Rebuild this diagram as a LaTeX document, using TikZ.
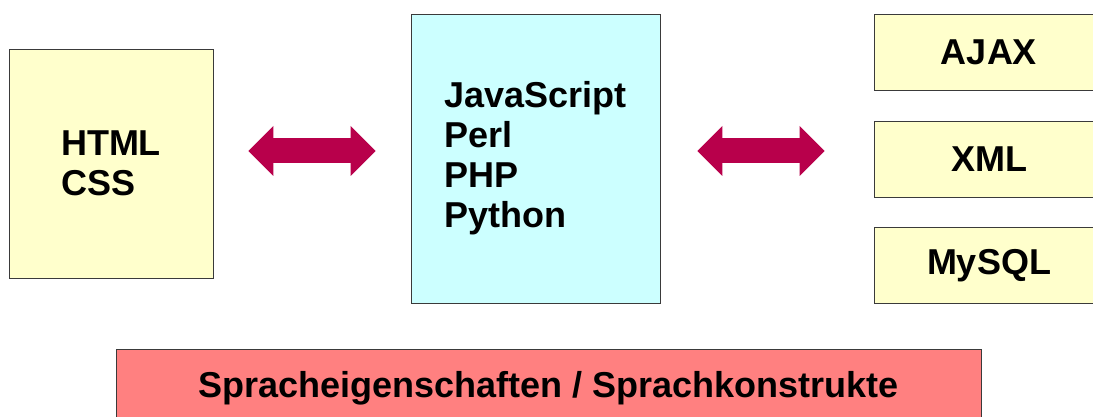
\documentclass[tikz,border=0pt]{standalone}
\usepackage{fontspec}
\setmainfont{Liberation Sans}
\usepackage{xcolor}
\usetikzlibrary{arrows.meta,calc}

\definecolor{boxyellow}{HTML}{FFFFCC}
\definecolor{boxcyan}{HTML}{CCFFFF}
\definecolor{boxred}{HTML}{FF8080}
\definecolor{arrowred}{HTML}{B8004B}
\definecolor{rimgray}{HTML}{3A3A3A}

\begin{document}
\begin{tikzpicture}[x=1pt,y=-1pt,
   langbox/.style={draw=rimgray,line width=0.8pt,align=left,inner sep=0pt,
      font=\fontsize{36}{40}\selectfont\bfseries},
   dblarrow/.style={draw=arrowred,line width=25pt,
      {Triangle[length=25pt,width=50pt,line width=0pt]}-{Triangle[length=25pt,width=50pt,line width=0pt]}}]
         \clip (0,0) rectangle (1093,417);
         \fill[white] (0,0) rectangle (1093,417);
         % left: markup
         \node[langbox,fill=boxyellow,minimum width=204pt,minimum height=229pt]
            (markup) at (111,163.5) {HTML\\CSS};
         % middle: scripting languages
         \node[langbox,fill=boxcyan,minimum width=249pt,minimum height=289pt]
            (script) at (535.5,158.5) {JavaScript\\Perl\\PHP\\Python};
         % right: data and techniques
         \node[langbox,fill=boxyellow,minimum width=230pt,minimum height=76pt]
            (ajax) at (989,52) {AJAX};
         \node[langbox,fill=boxyellow,minimum width=230pt,minimum height=76pt]
            (xml) at (989,159) {XML};
         \node[langbox,fill=boxyellow,minimum width=230pt,minimum height=76pt]
            (mysql) at (989,265.5) {MySQL};
         % bottom bar
         \node[langbox,fill=boxred,minimum width=865pt,minimum height=78pt]
            (props) at (548.5,388) {Spracheigenschaften / Sprachkonstrukte};
         % arrows
         \coordinate (lvl) at (0,151);
         \draw[dblarrow] ($(markup.east |- lvl)+(35,0)$) -- ($(script.west |- lvl)+(-35,0)$);
         \draw[dblarrow] ($(script.east |- lvl)+(37,0)$) -- ($(xml.west |- lvl)+(-49,0)$);
      \end{tikzpicture}
\end{document}
